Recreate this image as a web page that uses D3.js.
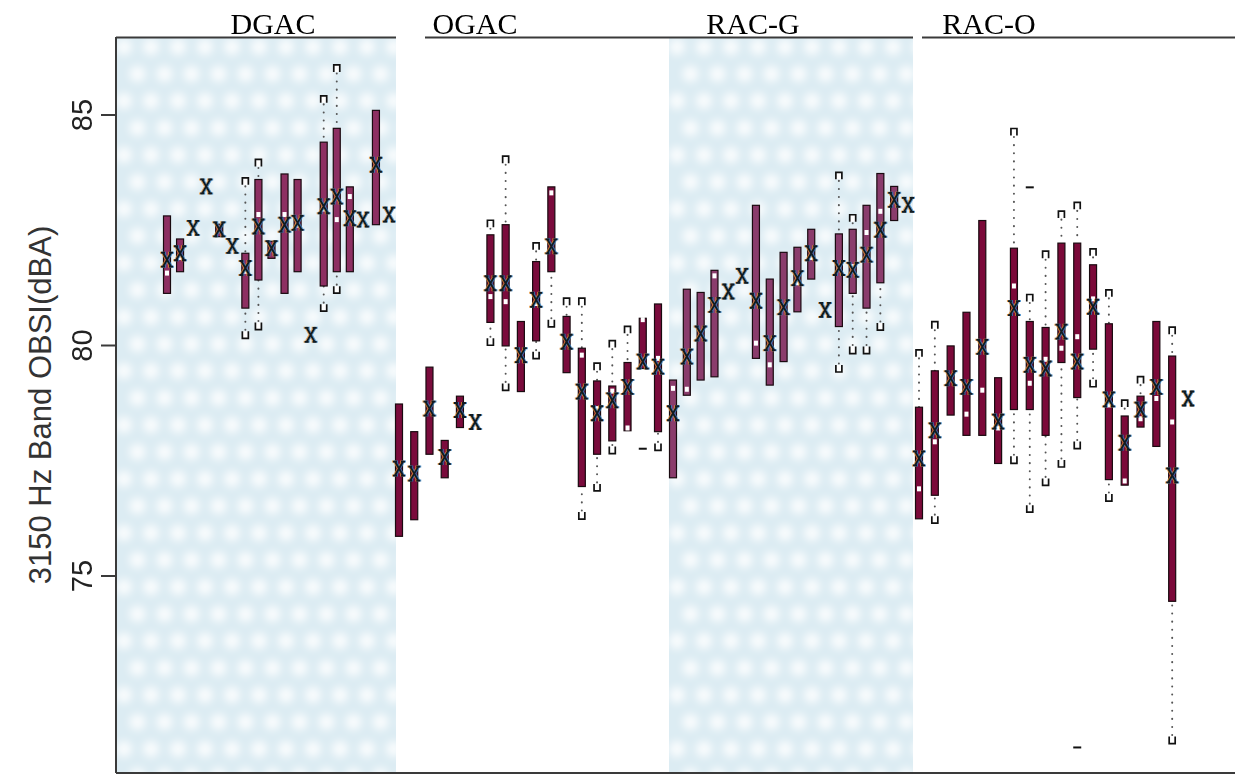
<!DOCTYPE html>
<html><head><meta charset="utf-8">
<script src="https://cdn.jsdelivr.net/npm/d3@7"></script>
<style>body{margin:0;background:#fff}svg{display:block}</style>
</head><body>
<svg id="c" width="1235" height="777"></svg>
<script>
// ---------------- DATA ----------------
const groups = ["DGAC", "OGAC", "RAC-G", "RAC-O"];
const boxesPerGroup = 18;
const yTicks = [75, 80, 85];
const yTitle = "3150 Hz Band OBSI(dBA)";

// upper edge of box (Q3), by group order DGAC | OGAC | RAC-G | RAC-O
const boxHigh = [
  82.80, 82.30, null, null, 82.62, null, 81.99, 83.59, 82.25, 83.71, 83.59, null, 84.40, 84.70, 83.43, null, 85.09, null,
  78.72, 78.12, 79.52, 77.93, 78.89, null, 82.39, 82.61, 80.51, 81.81, 83.43, 80.62, 79.93, 79.22, 79.11, 79.62, 80.58, 80.89,
  79.24, 81.21, 81.14, 81.62, null, null, 83.03, 81.43, 82.01, 82.12, 82.51, null, 82.41, 82.51, 83.03, 83.72, 83.44, null,
  78.65, 79.44, 79.98, 80.71, 82.70, 79.29, 82.10, 80.51, 80.38, 82.21, 82.21, 81.74, 80.46, 78.46, 78.89, 80.51, 79.76, null
];
// lower edge of box (Q1)
const boxLow = [
  81.12, 81.59, null, null, 82.35, null, 80.80, 81.41, 81.88, 81.12, 81.59, null, 81.28, 81.59, 81.59, null, 82.61, null,
  75.85, 76.21, 77.63, 77.12, 78.21, null, 80.49, 79.98, 78.99, 80.09, 81.59, 79.40, 76.93, 77.63, 77.92, 78.14, 79.49, 78.12,
  77.12, 78.91, 79.24, 79.31, null, null, 79.71, 79.13, 79.64, 80.72, 81.43, null, 80.40, 81.12, 80.80, 81.35, 82.70, null,
  76.23, 76.74, 78.48, 78.04, 78.04, 77.43, 78.60, 78.60, 78.04, 79.62, 78.86, 79.91, 77.08, 76.96, 78.22, 77.80, 74.44, null
];
// mean (X marker)
const meanVal = [
  81.85, 81.99, 82.54, 83.44, 82.51, 82.15, 81.67, 82.57, 82.10, 82.61, 82.65, 80.22, 83.01, 83.22, 82.75, 82.72, 83.91, 82.83,
  77.32, 77.21, 78.62, 77.57, 78.59, 78.33, 81.34, 81.34, 79.78, 80.98, 82.14, 80.07, 78.99, 78.52, 78.80, 79.09, 79.64, 79.53,
  78.52, 79.75, 80.25, 80.87, 81.16, 81.50, 80.96, 80.04, 80.82, 81.45, 81.99, 80.76, 81.67, 81.63, 81.96, 82.50, 83.15, 83.04,
  77.54, 78.15, 79.28, 79.09, 79.96, 78.34, 80.80, 79.57, 79.49, 80.29, 79.64, 80.83, 78.82, 77.88, 78.60, 79.09, 77.17, 78.84
];
// median (white mark)
const medianVal = [
  81.56, 81.90, null, null, null, null, 81.60, 82.83, null, 82.83, 82.60, null, 82.95, 82.72, 83.22, null, null, null,
  null, null, null, null, null, null, 81.05, 80.94, null, 80.90, 83.30, null, 79.78, 78.62, 79.00, 78.20, 80.55, 79.71,
  79.06, 79.04, null, 81.50, null, null, 80.04, 79.57, null, 81.35, 81.90, null, 81.67, 81.70, 82.44, 82.90, null, null,
  76.88, 77.90, null, 78.50, 79.02, 78.20, 81.28, 79.17, 79.69, 79.93, 80.18, 81.00, 78.70, 77.05, 78.40, 78.84, 78.33, null
];
// upper whisker end
const whiskerHigh = [
  null, null, null, null, null, null, 83.55, 83.95, null, null, null, null, 85.33, 86.00, null, null, null, null,
  null, null, null, null, null, null, 82.63, 84.02, null, 82.14, null, 80.94, 80.94, 79.53, 80.02, 80.33, null, null,
  null, null, null, null, null, null, null, null, null, null, null, null, 83.67, 82.75, null, null, null, null,
  79.82, 80.43, null, null, null, null, 84.62, 81.02, 81.96, 82.83, 83.02, 82.01, 81.12, 78.73, 79.24, null, 80.31, null
];
// lower whisker end
const whiskerLow = [
  null, null, null, null, null, null, 80.22, 80.41, null, null, null, null, 80.81, 81.20, null, null, null, null,
  null, null, null, null, null, null, 80.07, 79.09, null, 79.78, 80.47, null, 76.30, 76.91, 77.72, null, null, 77.79,
  null, null, null, null, null, null, null, null, null, null, null, null, 79.49, 79.89, 79.89, 80.40, null, null,
  null, 76.21, null, null, null, null, 77.51, 76.45, 77.03, 77.43, 77.83, 79.17, 76.69, null, null, null, 71.43, null
];
// isolated dash marks (box index, value)
const dashBox = [34, 61, 64];
const dashVal = [77.75, 83.42, 71.27];

// ---------------- LAYOUT ----------------
const svg = d3.select("#c");
const P = {left: 116, top: 37, right: 1235, bottom: 773};
const y = d3.scaleLinear().domain([75, 85]).range([575.5, 114.5]);
const groupRange = [[167, 389], [399, 658], [673, 908], [919, 1188]];
const shadeRange = [[116, 396], null, [669, 913], null];
const labelX = [273, 475, 753, 989];
const fills = ["#8d2f62", "#7a0b3c", "#8a3c6c", "#7b0939"];

const xScales = groups.map((g, gi) =>
  d3.scalePoint().domain(d3.range(boxesPerGroup)).range(groupRange[gi]));

const boxes = d3.range(groups.length * boxesPerGroup).map(i => {
  const gi = Math.floor(i / boxesPerGroup), k = i % boxesPerGroup;
  return {i, gi, x: xScales[gi](k), hi: boxHigh[i], lo: boxLow[i], mean: meanVal[i],
          med: medianVal[i], wh: whiskerHigh[i], wl: whiskerLow[i]};
});

// defs: blur filter + clip for soft light-blue texture
const defs = svg.append("defs");
defs.append("filter").attr("id", "soft").attr("x", "-50%").attr("y", "-50%")
  .attr("width", "200%").attr("height", "200%")
  .append("feGaussianBlur").attr("stdDeviation", 4);
const shades = shadeRange.filter(d => d);
const clip = defs.append("clipPath").attr("id", "shadeClip");
shades.forEach(s => clip.append("rect").attr("x", s[0]).attr("width", s[1] - s[0])
  .attr("y", P.top + 1).attr("height", P.bottom - P.top - 1));

const shadeG = svg.append("g").attr("clip-path", "url(#shadeClip)");
shadeG.selectAll("rect").data(shades).join("rect")
  .attr("x", d => d[0]).attr("width", d => d[1] - d[0])
  .attr("y", P.top + 1).attr("height", P.bottom - P.top - 1)
  .attr("fill", "#dcecf3");
// decorative blob grid
const step = 27;
const blobs = [];
shades.forEach(s => {
  for (let yy = P.top + 10, r = 0; yy < P.bottom + step; yy += step, r++) {
    for (let xx = s[0] + 8 + (r % 2) * step / 2; xx < s[1] + step; xx += step) blobs.push([xx, yy]);
  }
});
shadeG.append("g").attr("filter", "url(#soft)").selectAll("circle").data(blobs).join("circle")
  .attr("cx", d => d[0]).attr("cy", d => d[1]).attr("r", 8)
  .attr("fill", "#fff").attr("opacity", 0.85);

// frame
const frame = svg.append("g").attr("stroke", "#3a3a3a").attr("stroke-width", 2).attr("fill", "none");
frame.append("line").attr("x1", P.left).attr("x2", P.left).attr("y1", P.top).attr("y2", P.bottom);
frame.append("line").attr("x1", P.left).attr("x2", P.right).attr("y1", P.bottom).attr("y2", P.bottom);
[[P.left, 396], [425, 913], [922, P.right]].forEach(s =>
  frame.append("line").attr("x1", s[0]).attr("x2", s[1]).attr("y1", P.top + 0.5).attr("y2", P.top + 0.5));

// y axis ticks
const axis = svg.append("g").attr("transform", `translate(${P.left},0)`)
  .call(d3.axisLeft(y).tickValues(yTicks).tickSize(15).tickFormat(d3.format("d")));
axis.select(".domain").remove();
axis.selectAll(".tick line").attr("stroke", "#3a3a3a").attr("stroke-width", 2);
axis.selectAll(".tick text")
  .attr("transform", "translate(-34,0) rotate(-90)").attr("x", 0).attr("y", 0).attr("dy", 0)
  .attr("text-anchor", "middle").attr("dominant-baseline", "central")
  .style("font-family", "Liberation Sans, Arial, sans-serif").style("font-size", "29px")
  .attr("fill", "#222");

svg.append("text").attr("transform", "translate(40,405) rotate(-90)")
  .attr("text-anchor", "middle").attr("dominant-baseline", "central")
  .style("font-family", "Liberation Sans, Arial, sans-serif").style("font-size", "31px")
  .attr("fill", "#333").text(yTitle);

// group titles
svg.append("g").selectAll("text").data(groups).join("text")
  .attr("x", (d, i) => labelX[i]).attr("y", 34).attr("text-anchor", "middle")
  .style("font-family", "Liberation Serif, 'Times New Roman', serif").style("font-size", "30px")
  .attr("fill", "#000").text(d => d);

// whiskers (dotted)
const wg = svg.append("g").attr("stroke", "#555").attr("stroke-width", 2)
  .attr("stroke-linecap", "round").attr("stroke-dasharray", "0.1,8");
wg.selectAll("line.hi").data(boxes.filter(d => d.wh != null)).join("line")
  .attr("class", "hi")
  .attr("x1", d => d.x).attr("x2", d => d.x)
  .attr("y1", d => y(d.wh) + 5).attr("y2", d => y(d.hi != null ? d.hi : d.mean));
wg.selectAll("line.lo").data(boxes.filter(d => d.wl != null)).join("line")
  .attr("class", "lo")
  .attr("x1", d => d.x).attr("x2", d => d.x)
  .attr("y1", d => y(d.wl) - 5).attr("y2", d => y(d.lo != null ? d.lo : d.mean));

// caps
const cg = svg.append("g").attr("stroke", "#111").attr("stroke-width", 1.7).attr("fill", "#fff");
cg.selectAll("path.capH").data(boxes.filter(d => d.wh != null)).join("path")
  .attr("class", "capH")
  .attr("d", d => `M${d.x - 3},${y(d.wh) + 3.5}V${y(d.wh) - 3.5}H${d.x + 3}V${y(d.wh) + 3.5}`);
cg.selectAll("path.capL").data(boxes.filter(d => d.wl != null)).join("path")
  .attr("class", "capL")
  .attr("d", d => `M${d.x - 3},${y(d.wl) - 3.5}V${y(d.wl) + 3.5}H${d.x + 3}V${y(d.wl) - 3.5}`);

// dash marks
svg.append("g").selectAll("line").data(dashBox).join("line")
  .attr("x1", b => boxes[b].x - 4).attr("x2", b => boxes[b].x + 4)
  .attr("y1", (b, j) => y(dashVal[j])).attr("y2", (b, j) => y(dashVal[j]))
  .attr("stroke", "#111").attr("stroke-width", 2);

// boxes
svg.append("g").selectAll("rect").data(boxes.filter(d => d.hi != null)).join("rect")
  .attr("x", d => d.x - 3.5).attr("width", 7)
  .attr("y", d => y(d.hi)).attr("height", d => y(d.lo) - y(d.hi))
  .attr("fill", d => fills[d.gi]).attr("stroke", "#1a0a10").attr("stroke-width", 1.2);

// medians
svg.append("g").selectAll("rect").data(boxes.filter(d => d.med != null)).join("rect")
  .attr("x", d => d.x - 2).attr("width", 4)
  .attr("y", d => y(d.med) - 2.5).attr("height", 5).attr("fill", "#fff");

// mean markers
const xShape = "M-4,-7L4,7M4,-7L-4,7M-6,-7H-2M2,-7H6M-6,7H-2M2,7H6";
const mg = svg.append("g");
[["#e08b2c", -1, 2, 0.8], ["#2e7fc4", 1, 2, 0.8], ["#111a22", 0, 1.8, 1]].forEach(([c, dx, w, o]) => {
  mg.append("g").selectAll("path").data(boxes).join("path")
    .attr("transform", d => `translate(${d.x + dx},${y(d.mean)})`)
    .attr("d", xShape).attr("fill", "none").attr("stroke", c)
    .attr("stroke-width", w).attr("opacity", o);
});
</script>
</body></html>
